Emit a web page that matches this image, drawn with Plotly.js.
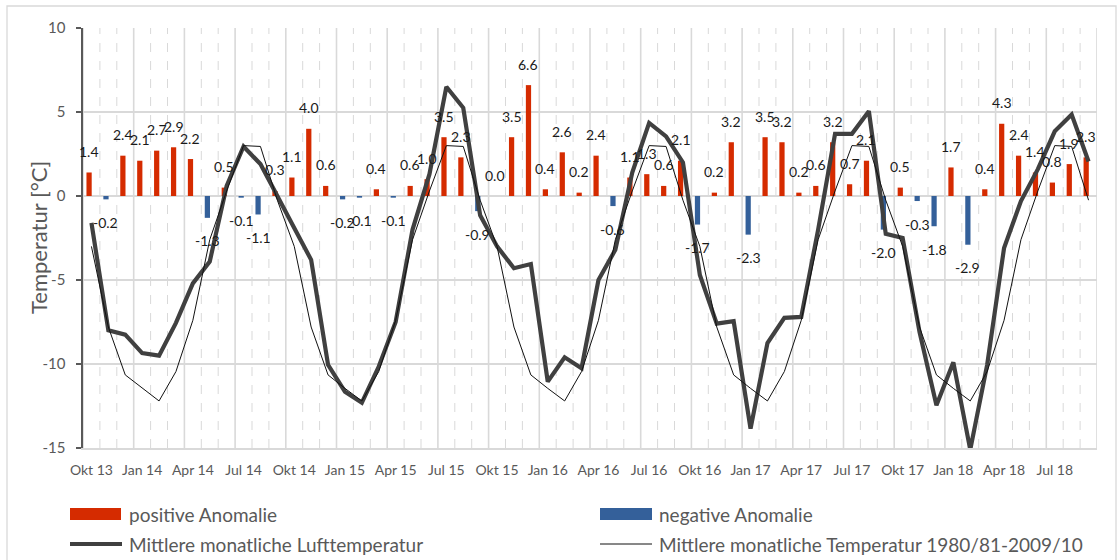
<!DOCTYPE html>
<html>
<head>
<meta charset="utf-8">
<script src="https://cdn.plot.ly/plotly-3.0.1.min.js"></script>
<style>
  html, body { margin: 0; padding: 0; background: #ffffff; }
  #chart { width: 1120px; height: 560px; }
</style>
</head>
<body>
<div id="chart"></div>
<script>
// ---------------- DATA ----------------
const months = [
  "Okt 13","Nov 13","Dez 13","Jan 14","Feb 14","Mär 14","Apr 14","Mai 14","Jun 14","Jul 14","Aug 14","Sep 14",
  "Okt 14","Nov 14","Dez 14","Jan 15","Feb 15","Mär 15","Apr 15","Mai 15","Jun 15","Jul 15","Aug 15","Sep 15",
  "Okt 15","Nov 15","Dez 15","Jan 16","Feb 16","Mär 16","Apr 16","Mai 16","Jun 16","Jul 16","Aug 16","Sep 16",
  "Okt 16","Nov 16","Dez 16","Jan 17","Feb 17","Mär 17","Apr 17","Mai 17","Jun 17","Jul 17","Aug 17","Sep 17",
  "Okt 17","Nov 17","Dez 17","Jan 18","Feb 18","Mär 18","Apr 18","Mai 18","Jun 18","Jul 18","Aug 18","Sep 18"
];
const tickLabels = ["Okt 13","Jan 14","Apr 14","Jul 14","Okt 14","Jan 15","Apr 15","Jul 15","Okt 15","Jan 16",
  "Apr 16","Jul 16","Okt 16","Jan 17","Apr 17","Jul 17","Okt 17","Jan 18","Apr 18","Jul 18"];
const yTickVals = [10, 5, 0, -5, -10, -15];
const yTickText = ["10", "5", "0", "-5", "-10", "-15"];
const yTitle = "Temperatur [°C]";

// Temperature anomaly (°C)
const anomaly = [
  1.4, -0.2, 2.4, 2.1, 2.7, 2.9, 2.2, -1.3, 0.5, -0.1, -1.1, 0.3,
  1.1, 4.0, 0.6, -0.2, -0.1, 0.4, -0.1, 0.6, 1.0, 3.5, 2.3, -0.9,
  0.0, 3.5, 6.6, 0.4, 2.6, 0.2, 2.4, -0.6, 1.1, 1.3, 0.6, 2.1,
  -1.7, 0.2, 3.2, -2.3, 3.5, 3.2, 0.2, 0.6, 3.2, 0.7, 2.1, -2.0,
  0.5, -0.3, -1.8, 1.7, -2.9, 0.4, 4.3, 2.4, 1.4, 0.8, 1.9, 2.3
];

// Mittlere monatliche Lufttemperatur (°C)
const airTemp = [
  -1.6, -8.0, -8.25, -9.35, -9.5, -7.55, -5.2, -3.9, 0.6, 2.95, 1.9, 0.05,
  -1.9, -3.8, -10.05, -11.65, -12.3, -10.15, -7.5, -2.0, 1.3, 6.5, 5.25, -1.15,
  -3.0, -4.3, -4.05, -11.05, -9.6, -10.25, -5.0, -3.2, 1.4, 4.35, 3.55, 2.0,
  -4.7, -7.6, -7.45, -13.85, -8.75, -7.25, -7.2, -2.0, 3.7, 3.7, 5.05, -2.25,
  -2.5, -8.1, -12.45, -9.9, -15.1, -10.05, -3.1, -0.3, 1.6, 3.85, 4.85, 2.05
];

// Mittlere monatliche Temperatur 1980/81-2009/10 (°C)
const normalTemp = [
  -3.0, -7.8, -10.65, -11.45, -12.2, -10.45, -7.4, -2.6, 0.3, 3.0, 2.95, -0.25,
  -3.0, -7.8, -10.65, -11.45, -12.2, -10.45, -7.4, -2.6, 0.3, 3.0, 2.95, -0.25,
  -3.0, -7.8, -10.65, -11.45, -12.2, -10.45, -7.4, -2.6, 0.3, 3.0, 2.95, -0.25,
  -3.0, -7.8, -10.65, -11.45, -12.2, -10.45, -7.4, -2.6, 0.3, 3.0, 2.95, -0.25,
  -3.0, -7.8, -10.65, -11.45, -12.2, -10.45, -7.4, -2.6, 0.3, 3.0, 2.95, -0.25
];

const seriesNames = ["positive Anomalie", "negative Anomalie",
  "Mittlere monatliche Lufttemperatur", "Mittlere monatliche Temperatur 1980/81-2009/10"];

// ---------------- STYLE ----------------
const FONT = "Lato, 'Open Sans', sans-serif";
const RED = "#D52B00";
const BLUE = "#34609A";
const GRID = "#d9d9d9";
const AXIS_TEXT = "#595959";
const W = 1120, H = 560;
const PL = 83, PR = 1097, PT = 28, PB = 448;   // plot area in px
const BAR_W = 0.31, BAR_OFF = -0.295, LABEL_XSHIFT = -2.4;

const px2x = p => (p - PL) / (PR - PL);
const px2y = p => (PB - p) / (PB - PT);

const posVals = anomaly.map(v => v >= 0 ? v : null);
const negVals = anomaly.map(v => v < 0 ? v : null);

const traces = [
  { type: "bar", name: seriesNames[0], x: months, y: posVals, marker: { color: RED },
    width: BAR_W, offset: BAR_OFF, hoverinfo: "x+y" },
  { type: "bar", name: seriesNames[1], x: months, y: negVals, marker: { color: BLUE },
    width: BAR_W, offset: BAR_OFF, hoverinfo: "x+y" },
  { type: "scatter", mode: "lines", name: seriesNames[2], x: months, y: airTemp,
    line: { color: "#404040", width: 4.2 } },
  { type: "scatter", mode: "lines", name: seriesNames[3], x: months, y: normalTemp,
    line: { color: "#111111", width: 1 } }
];

// gridlines at category boundaries: solid every 3rd, dashed otherwise
const shapes = [];
for (let i = 0; i <= months.length; i++) {
  const solid = (i % 3 === 0);
  shapes.push({ type: "line", xref: "x", yref: "paper", x0: i - 0.5, x1: i - 0.5, y0: 0, y1: 1,
    layer: "below", line: { color: GRID, width: solid ? 1.6 : 1, dash: solid ? "solid" : "dash" } });
}

// chart border
shapes.push({ type: "rect", xref: "paper", yref: "paper",
  x0: px2x(7), x1: px2x(1116), y0: px2y(580), y1: px2y(6),
  line: { color: "#d9d9d9", width: 1.3 }, fillcolor: "rgba(0,0,0,0)" });

// legend swatches
shapes.push({ type: "rect", xref: "paper", yref: "paper", x0: px2x(70), x1: px2x(121), y0: px2y(520), y1: px2y(508),
  line: { width: 0 }, fillcolor: RED });
shapes.push({ type: "rect", xref: "paper", yref: "paper", x0: px2x(600), x1: px2x(652), y0: px2y(520), y1: px2y(508),
  line: { width: 0 }, fillcolor: BLUE });
shapes.push({ type: "line", xref: "paper", yref: "paper", x0: px2x(70), x1: px2x(122), y0: px2y(544), y1: px2y(544),
  line: { color: "#404040", width: 4.2 } });
shapes.push({ type: "line", xref: "paper", yref: "paper", x0: px2x(600), x1: px2x(652), y0: px2y(544), y1: px2y(544),
  line: { color: "#111111", width: 1 } });

const annotations = anomaly.map((v, i) => ({
  x: months[i], y: v, xref: "x", yref: "y",
  text: v.toFixed(1), showarrow: false, xanchor: "center", yanchor: "middle",
  xshift: LABEL_XSHIFT, yshift: v >= 0 ? 21 : -23,
  font: { family: FONT, size: 14, color: "#1a1a1a" }
}));

const legendText = [
  { text: seriesNames[0], x: 127, y: 514 },
  { text: seriesNames[1], x: 657, y: 514 },
  { text: seriesNames[2], x: 127, y: 544 },
  { text: seriesNames[3], x: 657, y: 544 }
];
legendText.forEach(t => annotations.push({
  xref: "paper", yref: "paper", x: px2x(t.x), y: px2y(t.y), text: t.text, showarrow: false,
  xanchor: "left", yanchor: "middle", font: { family: FONT, size: 19, color: AXIS_TEXT }
}));

// y-axis title
annotations.push({
  xref: "paper", yref: "paper", x: px2x(38), y: px2y(238), text: yTitle, showarrow: false,
  textangle: -90, xanchor: "center", yanchor: "middle",
  font: { family: FONT, size: 22, color: AXIS_TEXT }
});

const layout = {
  width: W, height: H,
  margin: { l: PL, r: W - PR, t: PT, b: H - PB, pad: 0 },
  paper_bgcolor: "#ffffff", plot_bgcolor: "#ffffff",
  showlegend: false,
  barmode: "overlay",
  font: { family: FONT, color: AXIS_TEXT },
  xaxis: {
    type: "category", range: [-0.5, months.length - 0.5],
    tickmode: "array", tickvals: tickLabels, ticktext: tickLabels,
    showgrid: false, zeroline: false,
    showline: true, linecolor: GRID, linewidth: 1.6,
    ticks: "", ticklabelstandoff: 9,
    tickfont: { family: FONT, size: 14, color: AXIS_TEXT }, tickangle: 0
  },
  yaxis: {
    range: [-15, 10], tickmode: "array", tickvals: yTickVals, ticktext: yTickText,
    showgrid: true, gridcolor: GRID, gridwidth: 1.6,
    zeroline: true, zerolinecolor: GRID, zerolinewidth: 1.6,
    showline: true, linecolor: "#595959", linewidth: 1.6,
    ticks: "outside", ticklen: 5, tickcolor: "#595959", tickwidth: 1.3,
    ticklabelstandoff: 8,
    tickfont: { family: FONT, size: 15, color: AXIS_TEXT }
  },
  shapes: shapes,
  annotations: annotations
};

Plotly.newPlot("chart", traces, layout, { displayModeBar: false, staticPlot: true });
</script>
</body>
</html>
